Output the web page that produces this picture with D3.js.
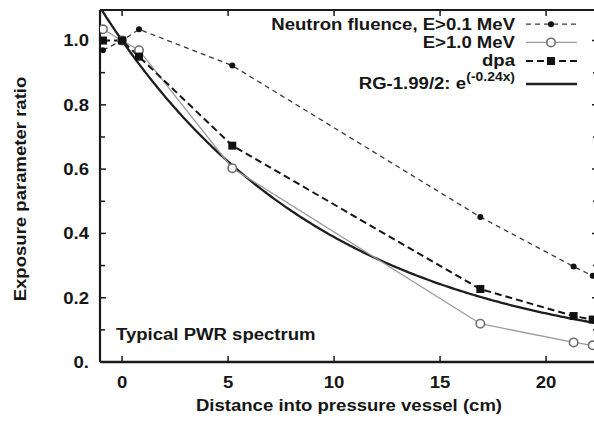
<!DOCTYPE html>
<html>
<head>
<meta charset="utf-8">
<script src="https://cdn.jsdelivr.net/npm/d3@7"></script>
<style>
  html, body { margin: 0; padding: 0; background: #fff; }
  svg { display: block; }
  text { font-family: "Liberation Sans", Arial, Helvetica, sans-serif; font-weight: bold; fill: #161616; }
</style>
</head>
<body>
<svg id="chart" width="594" height="421"></svg>
<script>
// Depth positions (cm) at which the exposure parameters were evaluated
const distance = [-0.9, 0, 0.8, 5.2, 16.9, 21.3, 22.2];
// Exposure parameter ratios, normalised to the inner surface
const fluenceE01 = [0.97, 1.0, 1.035, 0.922, 0.451, 0.297, 0.268];
const fluenceE10 = [1.035, 1.0, 0.97, 0.603, 0.119, 0.061, 0.052];
const dpaRatio   = [1.0, 1.0, 0.95, 0.673, 0.227, 0.143, 0.132];
// RG-1.99/2 attenuation: exp(-0.24 x), x in inches
const rgCoefficient = -0.24;
const cmPerInch = 2.54;
// Axis ticks
const xTicks = [0, 5, 10, 15, 20];
const yTicks = [0, 0.2, 0.4, 0.6, 0.8, 1.0];
const yTickLabels = ["0.", "0.2", "0.4", "0.6", "0.8", "1.0"];
const yMinorTicks = [0.1, 0.3, 0.5, 0.7, 0.9];

const svg = d3.select("#chart");
const L = 100, R = 598, T = 10, B = 362;
const x = d3.scaleLinear().domain([-1.04, 22.45]).range([L, R]);
const y = d3.scaleLinear().domain([0, 1.095]).range([B, T]);
const STRETCH = 1.16;
const FS = 16;

// Bold text with a slightly widened face
function label(g, tx, ty, str, size, anchor, rot) {
  return g.append("text")
    .attr("transform", `translate(${tx},${ty})` + (rot ? ` rotate(${rot})` : "") + ` scale(${STRETCH},1)`)
    .attr("text-anchor", anchor || "start")
    .style("font-size", size + "px")
    .text(str);
}

svg.append("defs").append("clipPath").attr("id", "plotclip")
  .append("rect").attr("x", L).attr("y", T).attr("width", R - L).attr("height", B - T);

// Frame
const frame = svg.append("g").attr("stroke", "#1a1a1a").attr("fill", "none");
frame.append("line").attr("x1", L).attr("x2", R).attr("y1", T).attr("y2", T).attr("stroke-width", 2.2);
frame.append("line").attr("x1", L).attr("x2", R).attr("y1", B).attr("y2", B).attr("stroke-width", 2.5);
frame.append("line").attr("x1", L).attr("x2", L).attr("y1", T).attr("y2", B).attr("stroke-width", 2.2);
frame.append("line").attr("x1", R).attr("x2", R).attr("y1", T).attr("y2", B).attr("stroke-width", 2.2);

// Ticks (inward, mirrored on opposite sides)
const ticks = svg.append("g").attr("stroke", "#1a1a1a").attr("stroke-width", 1.5);
xTicks.forEach(v => {
  ticks.append("line").attr("x1", x(v)).attr("x2", x(v)).attr("y1", B).attr("y2", B - 6);
  ticks.append("line").attr("x1", x(v)).attr("x2", x(v)).attr("y1", T).attr("y2", T + 6);
});
yTicks.concat(yMinorTicks).forEach(v => {
  const len = yMinorTicks.includes(v) ? 5 : 6;
  ticks.append("line").attr("x1", L).attr("x2", L + len).attr("y1", y(v)).attr("y2", y(v));
  ticks.append("line").attr("x1", R).attr("x2", R - len).attr("y1", y(v)).attr("y2", y(v));
});

// Tick labels
const tl = svg.append("g");
xTicks.forEach(v => label(tl, x(v), 387.5, String(v), FS, "middle"));
yTicks.forEach((v, i) => label(tl, 89, y(v) + 5.8, yTickLabels[i], FS, "end"));

// Axis titles
label(svg, 349, 411, "Distance into pressure vessel (cm)", FS, "middle");
label(svg, 26, 189, "Exposure parameter ratio", FS, "middle", -90);
label(svg, 116, 340, "Typical PWR spectrum", FS, "start");

const plot = svg.append("g").attr("clip-path", "url(#plotclip)");
const pts = arr => distance.map((d, i) => [d, arr[i]]);
const line = d3.line().x(d => x(d[0])).y(d => y(d[1]));

// Series styles
const styles = {
  e01: { stroke: "#3a3a3a", width: 1.3, dash: "5,4" },
  e10: { stroke: "#9a9a9a", width: 1.3, dash: null },
  dpa: { stroke: "#141414", width: 2, dash: "7,4" },
  rg:  { stroke: "#1e1e1e", width: 2.3, dash: null }
};

// RG-1.99/2 attenuation curve
const rgX = d3.range(x.domain()[0], x.domain()[1] + 0.05, 0.1);
const rgPts = rgX.map(d => [d, Math.exp(rgCoefficient * d / cmPerInch)]);
plot.append("path").attr("d", line(rgPts)).attr("fill", "none")
  .attr("stroke", styles.rg.stroke).attr("stroke-width", styles.rg.width);

function drawLine(data, s) {
  plot.append("path").attr("d", line(data)).attr("fill", "none")
    .attr("stroke", s.stroke).attr("stroke-width", s.width)
    .attr("stroke-dasharray", s.dash);
}
drawLine(pts(fluenceE10), styles.e10);
drawLine(pts(dpaRatio), styles.dpa);
drawLine(pts(fluenceE01), styles.e01);

// Markers
function markE10(g, cx, cy) {
  g.append("circle").attr("cx", cx).attr("cy", cy).attr("r", 4.2)
    .attr("fill", "#fff").attr("stroke", "#6e6e6e").attr("stroke-width", 1.6);
}
function markDpa(g, cx, cy) {
  g.append("rect").attr("x", cx - 4).attr("y", cy - 4).attr("width", 8).attr("height", 8)
    .attr("fill", "#111");
}
function markE01(g, cx, cy) {
  g.append("circle").attr("cx", cx).attr("cy", cy).attr("r", 3).attr("fill", "#111");
}
pts(fluenceE10).forEach(d => markE10(plot, x(d[0]), y(d[1])));
pts(dpaRatio).forEach(d => markDpa(plot, x(d[0]), y(d[1])));
pts(fluenceE01).forEach(d => markE01(plot, x(d[0]), y(d[1])));

// Legend
const lg = svg.append("g");
const lx1 = 526, lx2 = 577, lmid = 551;
const rows = [
  { text: "Neutron fluence, E>0.1 MeV", base: 29.5, s: styles.e01, mark: markE01 },
  { text: "E>1.0 MeV", base: 47.7, s: styles.e10, mark: markE10 },
  { text: "dpa", base: 66.3, s: styles.dpa, mark: markDpa },
  { text: null, base: 89.3, s: styles.rg, mark: null }
];
rows.forEach(r => {
  const ly = r.base - 5.3;
  lg.append("line").attr("x1", lx1).attr("x2", lx2).attr("y1", ly).attr("y2", ly)
    .attr("stroke", r.s.stroke).attr("stroke-width", r.s.width).attr("stroke-dasharray", r.s.dash);
  if (r.mark) r.mark(lg, lmid, ly);
  if (r.text) label(lg, 515, r.base, r.text, FS, "end");
});
// RG formula label with superscript exponent
label(lg, 515, 80.5, "(-0.24x)", 12, "end");
label(lg, 466, 89.3, "RG-1.99/2: e", FS, "end");
</script>
</body>
</html>
